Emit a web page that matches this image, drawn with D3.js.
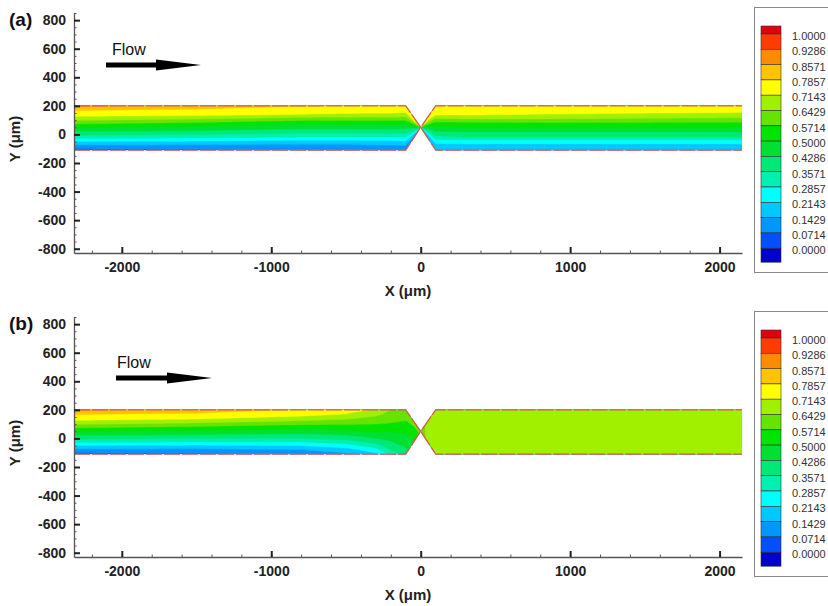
<!DOCTYPE html>
<html>
<head>
<meta charset="utf-8">
<script src="https://cdn.jsdelivr.net/npm/d3@7"></script>
<style>
  html, body { margin: 0; padding: 0; background: #fff; }
  svg { display: block; font-family: "Liberation Sans", Arial, sans-serif; }
</style>
</head>
<body>
<svg id="chart" width="828" height="606"></svg>
<script>
// ---------------------------------------------------------------
// Data
// ---------------------------------------------------------------

// Axial stations (µm) where the concentration profiles are tabulated
const stationX = [-2320, -1500, -800, -500, -300, -200, -100, -50, 0, 50, 100, 300, 800, 1500, 2150];

// Fractional position across the channel: bottom wall (0) to top wall (1)
const etaLevels = [0, 0.1, 0.2, 0.3, 0.4, 0.5, 0.6, 0.7, 0.8, 0.9, 1.0];

// Channel walls (µm): straight channel with a V-shaped pinch at x = 0
const wallX      = [-2320, -100,   0, 100, 2150];
const wallTop    = [  200,  200,  50, 200,  200];
const wallBottom = [ -110, -110,  50, -110, -110];

// Normalised concentration, case (a): one profile per station, bottom -> top
const concA = [
  [0.05, 0.12, 0.22, 0.33, 0.41, 0.49, 0.58, 0.67, 0.74, 0.79, 0.87],
  [0.06, 0.12, 0.21, 0.31, 0.40, 0.47, 0.55, 0.64, 0.73, 0.77, 0.83],
  [0.08, 0.12, 0.19, 0.29, 0.37, 0.44, 0.51, 0.60, 0.71, 0.75, 0.79],
  [0.08, 0.12, 0.19, 0.29, 0.37, 0.44, 0.51, 0.60, 0.70, 0.75, 0.78],
  [0.09, 0.13, 0.20, 0.29, 0.37, 0.44, 0.51, 0.60, 0.70, 0.74, 0.77],
  [0.09, 0.13, 0.20, 0.29, 0.37, 0.44, 0.51, 0.60, 0.70, 0.74, 0.77],
  [0.10, 0.14, 0.21, 0.29, 0.37, 0.44, 0.51, 0.60, 0.69, 0.74, 0.76],
  [0.11, 0.15, 0.22, 0.30, 0.37, 0.44, 0.51, 0.60, 0.69, 0.74, 0.76],
  [0.12, 0.16, 0.23, 0.31, 0.38, 0.45, 0.52, 0.61, 0.69, 0.74, 0.76],
  [0.13, 0.17, 0.24, 0.32, 0.39, 0.46, 0.53, 0.62, 0.70, 0.74, 0.76],
  [0.14, 0.18, 0.25, 0.34, 0.41, 0.48, 0.54, 0.63, 0.72, 0.745, 0.77],
  [0.15, 0.19, 0.25, 0.36, 0.42, 0.49, 0.54, 0.64, 0.72, 0.745, 0.77],
  [0.15, 0.19, 0.25, 0.36, 0.42, 0.49, 0.55, 0.64, 0.71, 0.745, 0.77],
  [0.16, 0.19, 0.25, 0.36, 0.42, 0.49, 0.55, 0.63, 0.70, 0.74, 0.77],
  [0.16, 0.19, 0.25, 0.36, 0.42, 0.49, 0.55, 0.62, 0.69, 0.74, 0.77]
];

// Normalised concentration, case (b): one profile per station, bottom -> top
const concB = [
  [0.05, 0.12, 0.22, 0.33, 0.41, 0.49, 0.58, 0.67, 0.74, 0.79, 0.87],
  [0.06, 0.12, 0.21, 0.31, 0.40, 0.47, 0.55, 0.64, 0.72, 0.77, 0.83],
  [0.09, 0.14, 0.22, 0.31, 0.39, 0.45, 0.52, 0.60, 0.68, 0.74, 0.78],
  [0.13, 0.18, 0.26, 0.34, 0.41, 0.47, 0.53, 0.59, 0.65, 0.71, 0.75],
  [0.20, 0.26, 0.33, 0.40, 0.45, 0.50, 0.54, 0.58, 0.62, 0.66, 0.70],
  [0.30, 0.36, 0.40, 0.43, 0.46, 0.50, 0.54, 0.57, 0.60, 0.62, 0.64],
  [0.40, 0.42, 0.44, 0.45, 0.47, 0.51, 0.54, 0.56, 0.58, 0.60, 0.61],
  [0.48, 0.49, 0.50, 0.51, 0.52, 0.53, 0.55, 0.56, 0.58, 0.59, 0.60],
  [0.60, 0.60, 0.60, 0.60, 0.60, 0.60, 0.60, 0.60, 0.60, 0.60, 0.60],
  [0.68, 0.68, 0.68, 0.68, 0.68, 0.68, 0.68, 0.68, 0.68, 0.68, 0.68],
  [0.68, 0.68, 0.68, 0.68, 0.68, 0.68, 0.68, 0.68, 0.68, 0.68, 0.68],
  [0.68, 0.68, 0.68, 0.68, 0.68, 0.68, 0.68, 0.68, 0.68, 0.68, 0.68],
  [0.68, 0.68, 0.68, 0.68, 0.68, 0.68, 0.68, 0.68, 0.68, 0.68, 0.68],
  [0.68, 0.68, 0.68, 0.68, 0.68, 0.68, 0.68, 0.68, 0.68, 0.68, 0.68],
  [0.68, 0.68, 0.68, 0.68, 0.68, 0.68, 0.68, 0.68, 0.68, 0.68, 0.68]
];

// Contour levels as printed in the legend (top to bottom)
const legendLabels = ["1.0000", "0.9286", "0.8571", "0.7857", "0.7143", "0.6429", "0.5714",
                      "0.5000", "0.4286", "0.3571", "0.2857", "0.2143", "0.1429", "0.0714", "0.0000"];

// Flood colours, lowest band (< 0) to highest band (> 1)
const bandColors = [
  "#0000c8", "#0050ff", "#0096ff", "#00c8ff", "#00ffff", "#00f0b0", "#00e878", "#00e030",
  "#00e400", "#66e400", "#a0f000", "#ffff00", "#ffc400", "#ff8c00", "#ff3c00", "#e00010"
];

const xMajorTicks = [-2000, -1000, 0, 1000, 2000];
const yMajorTicks = [-800, -600, -400, -200, 0, 200, 400, 600, 800];
const panelNames = ["(a)", "(b)"];

// ---------------------------------------------------------------
// Drawing
// ---------------------------------------------------------------
const svg = d3.select("#chart");
const thresholds = legendLabels.map(Number).sort((a, b) => a - b);

const x = d3.scaleLinear().domain([-2320, 2150]).range([74, 742]);
const xMinorTicks = d3.range(-2200, 2001, 200);
const yMinorTicks = d3.range(-800, 851, 50);

// Piecewise maps from grid index to physical coordinates
const nx = stationX.length, ny = etaLevels.length;
const idxToX = d3.scaleLinear().domain(d3.range(nx)).range(stationX);
const idxToEta = d3.scaleLinear().domain(d3.range(ny)).range(etaLevels);
const topAt = d3.scaleLinear().domain(wallX).range(wallTop);
const botAt = d3.scaleLinear().domain(wallX).range(wallBottom);

function densify(ring, step) {
  const out = [];
  for (let k = 0; k < ring.length - 1; k++) {
    const [x0, y0] = ring[k], [x1, y1] = ring[k + 1];
    const n = Math.max(1, Math.ceil(Math.hypot(x1 - x0, y1 - y0) / step));
    for (let s = 0; s < n; s++) out.push([x0 + (x1 - x0) * s / n, y0 + (y1 - y0) * s / n]);
  }
  out.push(ring[ring.length - 1]);
  return out;
}

const panels = [
  { name: panelNames[0], conc: concA, top: 13, flowTextX: 112, flowTextY: 55, arrowX: 106, arrowTip: 201, arrowY: 65, legendTop: 7 },
  { name: panelNames[1], conc: concB, top: 317, flowTextX: 117, flowTextY: 368, arrowX: 116, arrowTip: 212, arrowY: 378, legendTop: 311 }
];

const geo = d3.geoPath();

panels.forEach((p, pi) => {
  const g = svg.append("g");
  const plotTop = p.top, plotBottom = p.top + 240;
  const y = d3.scaleLinear().domain([-830, 850]).range([plotBottom, plotTop]);

  // Channel outline
  const topPts = wallX.map((wx, i) => [x(wx), y(wallTop[i])]);
  const botPts = wallX.map((wx, i) => [x(wx), y(wallBottom[i])]);
  const channelPoly = topPts.concat(botPts.slice().reverse());

  const clipId = "channel-clip-" + pi;
  g.append("clipPath").attr("id", clipId)
    .append("path").attr("d", "M" + channelPoly.join("L") + "Z");

  // Concentration field as filled contours
  const values = new Array(nx * ny);
  for (let i = 0; i < nx; i++)
    for (let j = 0; j < ny; j++) values[j * nx + i] = p.conc[i][j];

  const toPixel = ([cx, cy]) => {
    const fi = Math.max(0, Math.min(nx - 1, cx - 0.5));
    const fj = Math.max(0, Math.min(ny - 1, cy - 0.5));
    const xv = idxToX(fi);
    const eta = idxToEta(fj);
    const yv = botAt(xv) + eta * (topAt(xv) - botAt(xv));
    return [x(xv), y(yv)];
  };

  const field = g.append("g").attr("clip-path", `url(#${clipId})`);
  field.append("path")
    .attr("d", "M" + channelPoly.join("L") + "Z")
    .attr("fill", bandColors[0]);

  const contours = d3.contours().size([nx, ny]).thresholds(thresholds)(values);
  contours.forEach((c, k) => {
    if (!c.coordinates.length) return;
    const coords = c.coordinates.map(poly => poly.map(ring => densify(ring, 0.05).map(toPixel)));
    field.append("path")
      .attr("d", geo({ type: "MultiPolygon", coordinates: coords }))
      .attr("fill", bandColors[k + 1])
      .attr("stroke", bandColors[k + 1])
      .attr("stroke-width", 0.4);
  });

  // Walls
  const wallLine = d3.line();
  [topPts, botPts].forEach(pts => {
    g.append("path")
      .attr("d", wallLine(pts))
      .attr("fill", "none")
      .attr("stroke", "#d65a55")
      .attr("stroke-width", 1.3)
      .attr("stroke-dasharray", "16 2");
  });

  // Y axis
  const yAxisMinor = d3.axisLeft(y).tickValues(yMinorTicks).tickSize(-2.5).tickSizeOuter(0).tickFormat("");
  const yAxisMajor = d3.axisLeft(y).tickValues(yMajorTicks).tickSize(-6).tickSizeOuter(0).tickPadding(8)
    .tickFormat(d3.format("d"));
  const ya = g.append("g").attr("transform", "translate(74,0)");
  ya.call(yAxisMinor);
  ya.selectAll(".domain").remove();
  ya.selectAll("line").attr("stroke", "#555").attr("stroke-width", 1);
  const yb = g.append("g").attr("transform", "translate(74,0)").call(yAxisMajor);
  yb.select(".domain").attr("stroke", "#555").attr("stroke-width", 1.3);
  yb.selectAll("line").attr("stroke", "#222").attr("stroke-width", 2);
  yb.selectAll("text").attr("font-size", 14).attr("font-weight", "bold").attr("fill", "#222")
    .text(d => d3.format("d")(d).replace("−", "-"));

  // X axis
  const xAxisMinor = d3.axisBottom(x).tickValues(xMinorTicks).tickSize(-2.5).tickSizeOuter(0).tickFormat("");
  const xAxisMajor = d3.axisBottom(x).tickValues(xMajorTicks).tickSize(-6).tickSizeOuter(0).tickPadding(9);
  const xa = g.append("g").attr("transform", `translate(0,${plotBottom})`).call(xAxisMinor);
  xa.selectAll(".domain").remove();
  xa.selectAll("line").attr("stroke", "#555").attr("stroke-width", 1);
  const xb = g.append("g").attr("transform", `translate(0,${plotBottom})`).call(xAxisMajor);
  xb.select(".domain").attr("stroke", "#555").attr("stroke-width", 1.3);
  xb.selectAll("line").attr("stroke", "#222").attr("stroke-width", 2);
  xb.selectAll("text").attr("font-size", 14).attr("font-weight", "bold").attr("fill", "#222")
    .text(d => d3.format("d")(d).replace("−", "-"));

  // Axis titles
  g.append("text")
    .attr("x", 408).attr("y", plotTop + 283)
    .attr("text-anchor", "middle")
    .attr("font-size", 15).attr("font-weight", "bold").attr("fill", "#222")
    .text("X (μm)");
  g.append("text")
    .attr("transform", `translate(20,${plotTop + 126}) rotate(-90)`)
    .attr("text-anchor", "middle")
    .attr("font-size", 15).attr("font-weight", "bold").attr("fill", "#222")
    .text("Y (μm)");

  // Panel tag
  g.append("text")
    .attr("x", 9).attr("y", plotTop + 13)
    .attr("font-size", 19).attr("font-weight", "bold").attr("fill", "#111")
    .text(p.name);

  // Flow direction
  g.append("text")
    .attr("x", p.flowTextX).attr("y", p.flowTextY)
    .attr("font-size", 16).attr("fill", "#111")
    .text("Flow");
  const ax = p.arrowX, at = p.arrowTip, ay = p.arrowY, hb = at - 45;
  g.append("path")
    .attr("d", `M${ax},${ay - 2.5}L${hb},${ay - 2.5}L${hb},${ay - 5.5}L${at},${ay}L${hb},${ay + 5.5}L${hb},${ay + 2.5}L${ax},${ay + 2.5}Z`)
    .attr("fill", "#000");

  // Legend
  const lg = g.append("g");
  lg.append("rect")
    .attr("x", 754.5).attr("y", p.legendTop + 0.5)
    .attr("width", 100).attr("height", 265)
    .attr("fill", "#fff").attr("stroke", "#888").attr("stroke-width", 1);

  const swTop = p.legendTop + 19;
  const step = 15.3;
  const levelY = d3.scaleLinear().domain([1, 0]).range([swTop + 8, swTop + 8 + 14 * step]);
  // band edges: one extra band above 1 and below 0
  const edges = [swTop].concat(thresholds.slice().reverse().map(levelY), [swTop + 8 + 14 * step + 14]);
  for (let k = 0; k < edges.length - 1; k++) {
    lg.append("rect")
      .attr("x", 761).attr("y", edges[k])
      .attr("width", 20).attr("height", edges[k + 1] - edges[k])
      .attr("fill", bandColors[bandColors.length - 1 - k])
      .attr("stroke", "#333").attr("stroke-width", 0.6);
  }
  legendLabels.forEach(lbl => {
    lg.append("text")
      .attr("x", 792).attr("y", levelY(+lbl) + 2)
      .attr("dominant-baseline", "central")
      .attr("font-size", 11).attr("fill", "#333")
      .text(lbl);
  });
});
</script>
</body>
</html>
